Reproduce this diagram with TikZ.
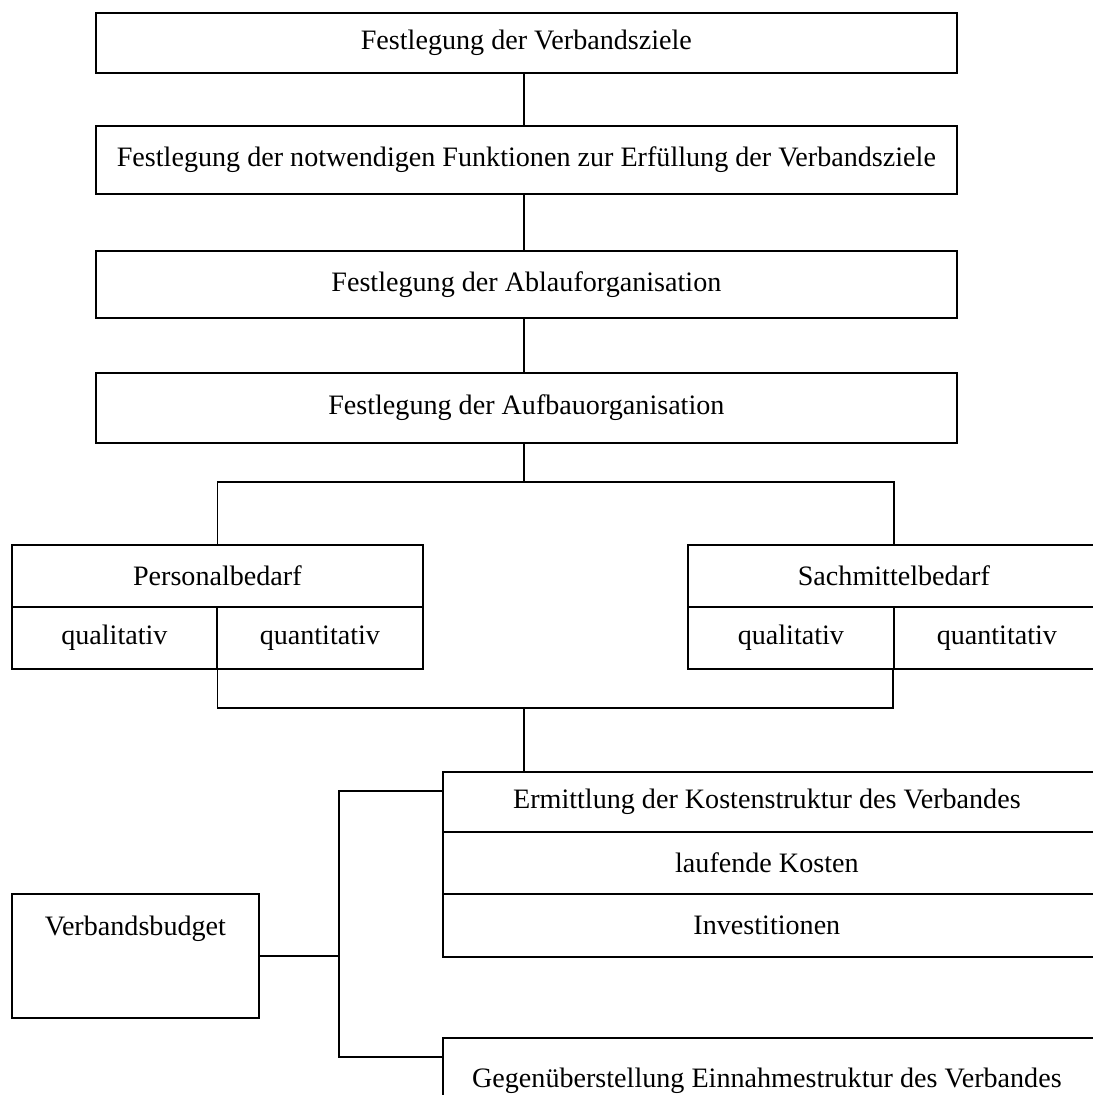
\documentclass[tikz,border=0pt]{standalone}
\usepackage{fontspec}
\setmainfont{Liberation Serif}
\usepackage{tikz}
\usetikzlibrary{positioning,calc}

\begin{document}
\begin{tikzpicture}[
  font=\fontsize{16}{18}\selectfont,
  box/.style  = {rectangle, draw=black, line width=1pt, anchor=north west,
                 inner sep=0pt},
  cell/.style = {box, minimum height=1.24cm},
  wide/.style = {box, minimum width=14cm},
  conn/.style = {draw=black, line width=0.8pt}
]
\useasboundingbox (0,0) rectangle (21.86,-21.90);
\clip (0,0) rectangle (21.86,-21.90);

% Hauptkette
\node[box, minimum width=17.22cm, minimum height=1.20cm] (ziele)  at (1.90,-0.24) {Festlegung der Verbandsziele};
\node[box, minimum width=17.22cm, minimum height=1.36cm] (funkt)  at (1.90,-2.50) {Festlegung der notwendigen Funktionen zur Erfüllung der Verbandsziele};
\node[box, minimum width=17.22cm, minimum height=1.34cm] (ablauf) at (1.90,-5.00) {Festlegung der Ablauforganisation};
\node[box, minimum width=17.22cm, minimum height=1.40cm] (aufbau) at (1.90,-7.44) {Festlegung der Aufbauorganisation};

% Bedarf
\node[cell, minimum width=8.22cm] (pers)   at (0.22,-10.88) {Personalbedarf};
\node[cell, minimum width=4.10cm] (persql) at (0.22,-12.12) {qualitativ};
\node[cell, minimum width=4.12cm] (persqn) at (4.32,-12.12) {quantitativ};
\node[cell, minimum width=8.24cm] (sach)   at (13.74,-10.88) {Sachmittelbedarf};
\node[cell, minimum width=4.12cm] (sachql) at (13.74,-12.12) {qualitativ};
\node[cell, minimum width=4.12cm] (sachqn) at (17.86,-12.12) {quantitativ};

% Kosten und Budget
\node[wide, minimum height=1.20cm] (kosten)  at (8.84,-15.42) {Ermittlung der Kostenstruktur des Verbandes\kern1.04cm};
\node[wide, minimum height=1.24cm] (laufend) at (8.84,-16.62) {laufende Kosten\kern1.04cm};
\node[wide, minimum height=1.26cm] (invest)  at (8.84,-17.86) {Investitionen\kern1.04cm};
\node[box, minimum width=4.94cm, minimum height=2.48cm, inner ysep=0.44cm,
      text height=0.40cm, text depth=1.20cm] (budget) at (0.22,-17.86) {Verbandsbudget};
\node[wide, inner ysep=0.60cm, text height=0.40cm, text depth=0.15cm] (gegen)
      at (8.84,-20.74) {Gegenüberstellung Einnahmestruktur des Verbandes\kern1.04cm};

\coordinate (branch) at (10.48,-9.64);
\coordinate (join)   at (10.48,-14.16);
\coordinate (bustop) at (6.78,-15.82);
\coordinate (busbot) at (6.78,-21.14);

\draw[conn] (ziele.south -| branch)  -- (funkt.north -| branch);
\draw[conn] (funkt.south -| branch)  -- (ablauf.north -| branch);
\draw[conn] (ablauf.south -| branch) -- (aufbau.north -| branch);
\draw[conn] (aufbau.south -| branch) -- (branch);
\draw[conn] (pers.north) |- (branch) -| (sach.north);
\draw[conn] (persql.south east) |- (join) -| (sachqn.south west);
\draw[conn] (join) -- (join |- kosten.north);
\draw[conn] (bustop -| kosten.west) -- (bustop) -- (busbot) -- (busbot -| gegen.west);
\draw[conn] (budget.east) -- (budget.east -| bustop);
\end{tikzpicture}
\end{document}
